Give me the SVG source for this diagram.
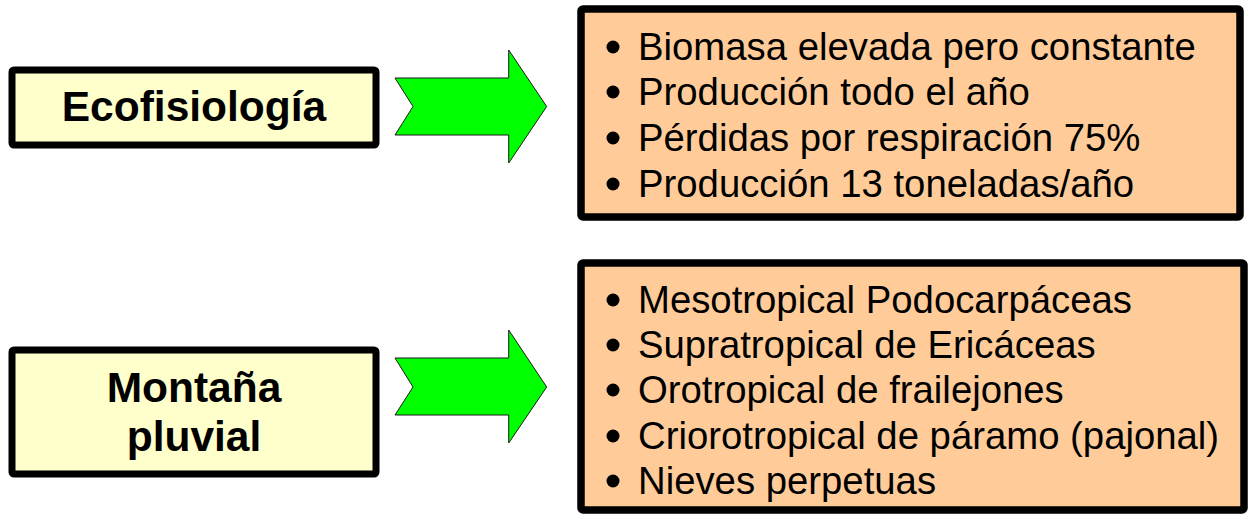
<svg xmlns="http://www.w3.org/2000/svg" width="1249" height="514" viewBox="0 0 1249 514">
<style>
.lbox{fill:#FFFFCC;stroke:#000;stroke-width:7}
.rbox{fill:#FFCC99;stroke:#000;stroke-width:7.5}
.arrow{fill:#00FF00;stroke:#1a1a1a;stroke-width:1}
.title{font-family:"Liberation Sans",Arial,sans-serif;font-weight:bold;font-size:42.5px;fill:#000;text-anchor:middle}
.item{font-family:"Liberation Sans",Arial,sans-serif;font-size:38.3px;fill:#000}
</style>
<rect width="1249" height="514" fill="#fff"/>
<g id="node-ecofisiologia">
<rect class="lbox" x="12" y="70" width="364" height="75" rx="2"/>
<text class="title" x="194" y="121">Ecofisiología</text>
</g>
<g id="node-montana">
<rect class="lbox" x="12" y="350" width="364" height="124" rx="2"/>
<text class="title" x="194" y="402">Montaña</text>
<text class="title" x="194" y="451">pluvial</text>
</g>
<g id="node-eco-list">
<rect class="rbox" x="581" y="9" width="659" height="208" rx="2"/>
<g><circle cx="613" cy="47" r="6.5"/><circle cx="613" cy="92" r="6.5"/><circle cx="613" cy="138" r="6.5"/><circle cx="613" cy="184" r="6.5"/></g>
<text class="item" x="638" y="60">Biomasa elevada pero constante</text>
<text class="item" x="638" y="105">Producción todo el año</text>
<text class="item" x="638" y="151">Pérdidas por respiración 75%</text>
<text class="item" x="638" y="197">Producción 13 toneladas/año</text>
</g>
<g id="node-montana-list">
<rect class="rbox" x="581" y="263" width="663" height="247" rx="2"/>
<g><circle cx="613" cy="300" r="6.5"/><circle cx="613" cy="345" r="6.5"/><circle cx="613" cy="390" r="6.5"/><circle cx="613" cy="436" r="6.5"/><circle cx="613" cy="481" r="6.5"/></g>
<text class="item" x="638" y="313">Mesotropical Podocarpáceas</text>
<text class="item" x="638" y="358">Supratropical de Ericáceas</text>
<text class="item" x="638" y="403">Orotropical de frailejones</text>
<text class="item" x="638" y="449">Criorotropical de páramo (pajonal)</text>
<text class="item" x="638" y="494">Nieves perpetuas</text>
</g>
<g id="connectors">
<polygon class="arrow" points="395,78 508.7,78 508.7,50 546.7,106.5 508.7,163 508.7,135 395,135 413,106.5"/>
<polygon class="arrow" points="395,358 508.7,358 508.7,330 546.7,387 508.7,443 508.7,415 395,415 413,387"/>
</g>
</svg>
